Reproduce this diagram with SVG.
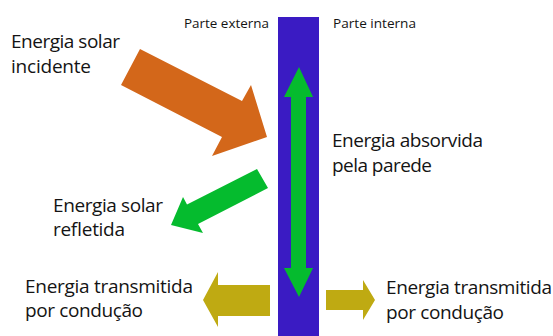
<svg xmlns="http://www.w3.org/2000/svg" width="553" height="336" viewBox="0 0 553 336">
<style>
text{font-family:"Open Sans","Noto Sans",sans-serif;fill:#141414}
.big{font-size:19px}
.small{font-size:12.5px}
</style>
<rect width="553" height="336" fill="#ffffff"/>
<g id="wall"><rect x="278" y="17" width="41" height="319" fill="#3a1bc3"/></g>
<g id="connectors">
<polygon id="incident" points="140,49 242,101 251,85 267,137 212,156 222,137 121,85" fill="#d3671a"/>
<polygon id="reflected" points="257,169 187,204.5 183,197 171,225 203,233 198,224 268,188" fill="#05bb2e"/>
<polygon id="absorbed" points="299,67 313,97 306,97 306,268 313,268 299,297 284,268 291,268 291,97 284,97" fill="#05bb2e"/>
<polygon id="cond-left" points="270,285 270,316 218,316 218,327 203,300 218,272 218,285" fill="#bfaa12"/>
<polygon id="cond-right" points="326,290 363,290 363,280 375,300 363,320 363,310 326,310" fill="#bfaa12"/>
</g>
<g id="labels">
<text class="small" x="184" y="28" textLength="85" lengthAdjust="spacingAndGlyphs">Parte externa</text>
<text class="small" x="333" y="28" textLength="83" lengthAdjust="spacingAndGlyphs">Parte interna</text>
<text class="big" x="11" y="48" textLength="109">Energia solar</text>
<text class="big" x="11" y="73" textLength="80">incidente</text>
<text class="big" x="332" y="147" textLength="151">Energia absorvida</text>
<text class="big" x="332" y="172" textLength="100">pela parede</text>
<text class="big" x="53" y="212" textLength="110">Energia solar</text>
<text class="big" x="53" y="236" textLength="72">refletida</text>
<text class="big" x="25" y="293" textLength="168">Energia transmitida</text>
<text class="big" x="25" y="317" textLength="118">por condução</text>
<text class="big" x="386" y="294" textLength="166">Energia transmitida</text>
<text class="big" x="386" y="319" textLength="118">por condução</text>
</g>
</svg>
